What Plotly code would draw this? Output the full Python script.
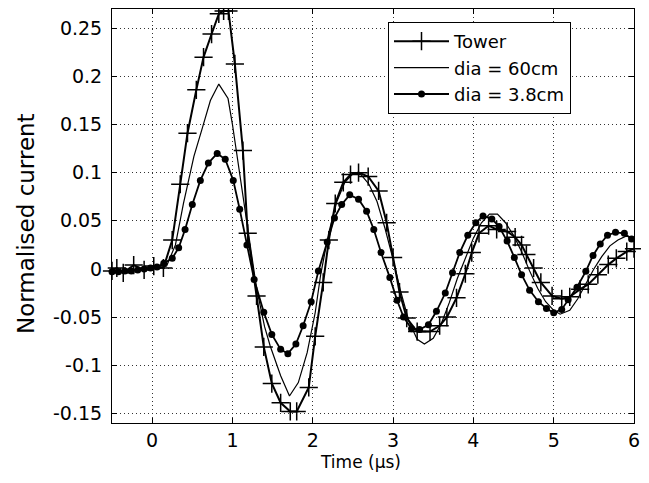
import plotly.graph_objects as go

# ---- data ----
tower_t = [-0.5, -0.44, -0.36, -0.23, -0.1, 0.02, 0.14, 0.25, 0.35, 0.44,
           0.55, 0.64, 0.74, 0.83, 0.89, 0.95, 1.03, 1.13, 1.19, 1.3,
           1.39, 1.49, 1.6, 1.72, 1.8, 1.95, 2.03, 2.13, 2.2, 2.28,
           2.38, 2.47, 2.57, 2.69, 2.82, 2.92, 3.0, 3.08, 3.17, 3.3,
           3.46, 3.58, 3.67, 3.79, 3.9, 3.98, 4.07, 4.19, 4.29, 4.42,
           4.52, 4.6, 4.66, 4.75, 4.84, 4.98, 5.1, 5.2, 5.33, 5.43,
           5.55, 5.68, 5.78, 5.91, 6.0]
tower_i = [-0.002, 0.001, -0.004, 0.004, -0.001, 0.003, 0.001, 0.03, 0.088, 0.141,
           0.186, 0.22, 0.244, 0.265, 0.268, 0.268, 0.213, 0.123, 0.037, -0.028,
           -0.081, -0.119, -0.139, -0.148, -0.148, -0.123, -0.07, -0.014, 0.03, 0.068,
           0.09, 0.098, 0.1, 0.096, 0.081, 0.048, 0.012, -0.024, -0.051, -0.065,
           -0.065, -0.059, -0.05, -0.03, -0.005, 0.017, 0.037, 0.045, 0.041, 0.039,
           0.033, 0.025, 0.015, 0.001, -0.014, -0.028, -0.031, -0.029, -0.021, -0.016,
           -0.006, 0.0045, 0.011, 0.018, 0.021]

dia60_t = [-0.5, -0.3, -0.1, 0.1, 0.18, 0.29, 0.39, 0.52, 0.62, 0.725,
           0.83, 0.945, 1.0, 1.1, 1.14, 1.2, 1.3, 1.4, 1.47, 1.6,
           1.71, 1.82, 1.93, 2.03, 2.1, 2.2, 2.3, 2.4, 2.5, 2.6,
           2.7, 2.8, 2.9, 3.0, 3.1, 3.2, 3.3, 3.39, 3.5, 3.6,
           3.7, 3.8, 3.9, 4.0, 4.1, 4.2, 4.3, 4.4, 4.5, 4.6,
           4.7, 4.8, 4.9, 5.0, 5.08, 5.2, 5.3, 5.4, 5.5, 5.6,
           5.7, 5.8, 5.9, 6.0]
dia60_i = [-0.002, -0.001, 0.0, 0.001, 0.003, 0.025, 0.068, 0.117, 0.145, 0.175,
           0.192, 0.177, 0.15, 0.095, 0.072, 0.035, -0.02, -0.06, -0.08, -0.111,
           -0.132, -0.118, -0.087, -0.0455, -0.005, 0.038, 0.07, 0.09, 0.099, 0.098,
           0.088, 0.07, 0.042, 0.01, -0.025, -0.055, -0.073, -0.078, -0.072, -0.057,
           -0.035, -0.01, 0.012, 0.032, 0.048, 0.057, 0.057, 0.048, 0.035, 0.018,
           -0.002, -0.02, -0.034, -0.043, -0.047, -0.043, -0.031, -0.016, 0.0, 0.013,
           0.024, 0.030, 0.034, 0.033]

dia38_t = [-0.5, -0.42, -0.34, -0.26, -0.18, -0.1, -0.02, 0.06, 0.145,
           0.25, 0.33, 0.41, 0.5, 0.6, 0.7, 0.81, 0.91, 1.01, 1.09,
           1.18, 1.27, 1.39, 1.49, 1.6, 1.69, 1.79, 1.88, 1.98, 2.07,
           2.18, 2.27, 2.36, 2.46, 2.57, 2.67, 2.76, 2.85, 2.96, 3.05,
           3.13, 3.23, 3.33, 3.44, 3.54, 3.65, 3.74, 3.83, 3.93, 4.03,
           4.12, 4.23, 4.32, 4.42, 4.51, 4.6, 4.7, 4.81, 4.91, 5.0,
           5.1, 5.18, 5.29, 5.4, 5.49, 5.58, 5.67, 5.77, 5.88, 5.97]
dia38_i = [-0.003, -0.003, -0.002, -0.002, -0.001, 0.0, 0.001, 0.002, 0.006,
           0.011, 0.022, 0.041, 0.067, 0.092, 0.110, 0.120, 0.114, 0.092, 0.062,
           0.025, -0.011, -0.045, -0.068, -0.0835, -0.088, -0.078, -0.059, -0.034, -0.002,
           0.028, 0.053, 0.067, 0.077, 0.0725, 0.060, 0.041, 0.017, -0.009, -0.0325,
           -0.05, -0.062, -0.063, -0.058, -0.044, -0.025, -0.004, 0.017, 0.035, 0.048,
           0.055, 0.052, 0.044, 0.029, 0.012, -0.006, -0.022, -0.034, -0.041, -0.0455,
           -0.042, -0.032, -0.019, -0.0025, 0.014, 0.026, 0.035, 0.038, 0.037, 0.031]

x_ticks = [0, 1, 2, 3, 4, 5, 6]
y_ticks = [-0.15, -0.1, -0.05, 0, 0.05, 0.1, 0.15, 0.2, 0.25]
y_tick_text = ["-0.15", "-0.1", "-0.05", "0", "0.05", "0.1", "0.15", "0.2", "0.25"]

FONT = "DejaVu Sans"

# the page body has an 8px margin: size the figure so the plot lands where
# it sits in the 649x483 reference
W, H = 641, 475
ML, MR, MT, MB = 104, 15, 1, 60
PW, PH = W - ML - MR, H - MT - MB

fig = go.Figure()
fig.add_trace(go.Scatter(
    x=tower_t, y=tower_i, name="Tower", mode="lines+markers",
    line=dict(color="black", width=2),
    marker=dict(symbol="cross-thin", size=13, line=dict(color="black", width=1.5)),
    cliponaxis=False))
fig.add_trace(go.Scatter(
    x=dia60_t, y=dia60_i, name="dia = 60cm", mode="lines",
    line=dict(color="black", width=1.2)))
fig.add_trace(go.Scatter(
    x=dia38_t, y=dia38_i, name="dia = 3.8cm", mode="lines+markers",
    line=dict(color="black", width=1.8),
    marker=dict(symbol="circle", size=7, color="black"),
    cliponaxis=False))

axis_common = dict(
    showline=True, linecolor="black", linewidth=1, mirror="ticks",
    ticks="inside", ticklen=5, tickcolor="black",
    showgrid=True, gridcolor="#333333", griddash="1px,3px", gridwidth=1,
    zeroline=False,
    tickfont=dict(family=FONT, size=19, color="black"),
)

def px_x(px):  # reference pixel -> paper fraction
    return (px - 8 - ML) / PW

def px_y(py):
    return (H - MB - (py - 8)) / PH

fig.update_layout(
    width=W, height=H,
    margin=dict(l=ML, r=MR, t=MT, b=MB),
    paper_bgcolor="white", plot_bgcolor="white",
    font=dict(family=FONT, color="black"),
    showlegend=True,
    legend=dict(x=px_x(388), y=px_y(22), xanchor="left", yanchor="top",
                bgcolor="white", bordercolor="black", borderwidth=1,
                font=dict(family=FONT, size=18, color="black"),
                tracegroupgap=0, itemwidth=55),
    xaxis=dict(range=[-0.5, 6], tickvals=x_ticks, **axis_common),
    yaxis=dict(range=[-0.16, 0.27], tickvals=y_ticks, ticktext=y_tick_text,
               ticklabelstandoff=5, **axis_common),
    annotations=[
        dict(text="Time (\u00b5s)", xref="paper", yref="paper",
             x=px_x(360), y=px_y(462),
             xanchor="center", yanchor="middle", showarrow=False,
             font=dict(family=FONT, size=17, color="black")),
        dict(text="Normalised current", xref="paper", yref="paper",
             x=px_x(26), y=px_y(224),
             xanchor="center", yanchor="middle", showarrow=False, textangle=-90,
             font=dict(family=FONT, size=23, color="black")),
    ],
)

fig.write_html("out.html")
